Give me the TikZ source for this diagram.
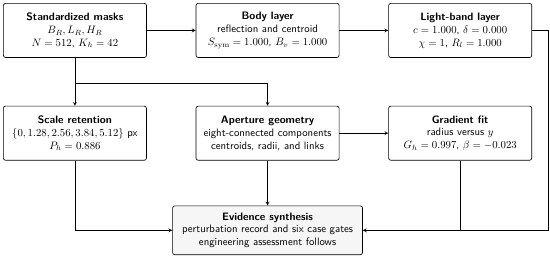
\documentclass[tikz,border=0pt]{standalone}
\usepackage{amsmath}
\usepackage{amssymb}
\usepackage{tikz}
\usepackage{xcolor}
\usetikzlibrary{arrows, positioning, calc}

\begin{document}
\begin{tikzpicture}[
    font=\sffamily,
    node distance=1.57cm and 1.6cm,
    box/.style={rectangle, rounded corners=2pt, minimum width=4.68cm, minimum height=1.77cm, text centered, align=center, draw=black, semithick, fill=white},
    synth/.style={rectangle, rounded corners=2pt, minimum width=6.21cm, minimum height=1.6cm, text centered, align=center, draw=black, semithick, fill=gray!7},
    arrow/.style={semithick,->,>=stealth},
    link/.style={semithick}
]

\node (masks) [box] {\textbf{Standardized masks} \\ $B_R, L_R, H_R$ \\ $N = 512$, $K_h = 42$};
\node (body) [box, right=of masks] {\textbf{Body layer} \\ reflection and centroid \\ $S_{\mathrm{sym}} = 1.000$, $B_v = 1.000$};
\node (light) [box, right=of body] {\textbf{Light-band layer} \\ $c = 1.000$, $\delta = 0.000$ \\ $\chi = 1$, $R_l = 1.000$};
\node (scale) [box, below=of masks] {\textbf{Scale retention} \\ $\{0, 1.28, 2.56, 3.84, 5.12\}$ px \\ $P_h = 0.886$};
\node (aperture) [box, below=of body] {\textbf{Aperture geometry} \\ eight-connected components \\ centroids, radii, and links};
\node (gradient) [box, below=of light] {\textbf{Gradient fit} \\ radius versus $y$ \\ $G_h = 0.997$, $\beta = -0.023$};
\node (evidence) [synth, below=1.47cm of aperture] {\textbf{Evidence synthesis} \\ perturbation record and six case gates \\ engineering assessment follows};

\coordinate (split) at ($(masks.south)+(0,-0.85)$);
\coordinate (rail) at ($(light.east)+(0.52,0)$);

\draw [arrow] (masks) -- (body);
\draw [arrow] (body) -- (light);
\draw [link] (masks) -- (split);
\draw [arrow] (split) -- (scale);
\draw [arrow] (split) -| (aperture);
\draw [arrow] (aperture) -- (gradient);
\draw [arrow] (aperture) -- (evidence);
\draw [arrow] (scale) |- (evidence);
\draw [arrow] (light) -- (rail) |- (evidence);
\draw [link] (gradient) -- (gradient |- evidence);

\useasboundingbox ($(masks.north west)+(-0.1,0.1)$) rectangle ++(17.99,-8.37);

\end{tikzpicture}
\end{document}
